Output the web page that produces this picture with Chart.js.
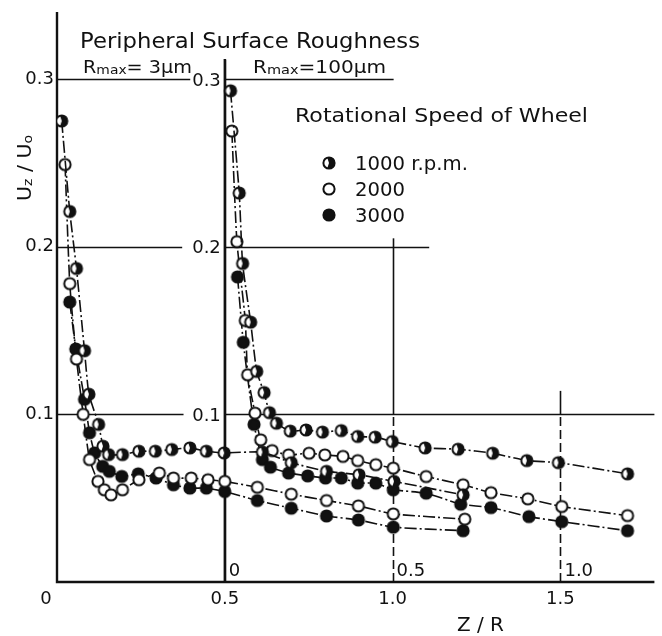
<!DOCTYPE html>
<html>
<head>
<meta charset="utf-8">
<script src="https://cdn.jsdelivr.net/npm/chart.js@4.4.1/dist/chart.umd.min.js"></script>
<style>
html, body { margin: 0; padding: 0; background: #fff; }
#wrap { width: 662px; height: 636px; }
</style>
</head>
<body>
<div id="wrap"><canvas id="chart"></canvas></div>
<script>
// Rmax = 3 um, Z/R
var r3_1000_z = [0.014, 0.038, 0.058, 0.082, 0.095, 0.124, 0.137, 0.154, 0.195, 0.244, 0.293, 0.342, 0.396, 0.445, 0.498, 0.612, 0.698, 0.803, 0.90, 1.004, 1.21];
var r3_1000_u = [0.275, 0.221, 0.187, 0.138, 0.112, 0.094, 0.081, 0.076, 0.076, 0.078, 0.078, 0.079, 0.080, 0.078, 0.077, 0.0775, 0.0712, 0.066, 0.064, 0.060, 0.052];
var r3_2000_z = [0.024, 0.038, 0.058, 0.078, 0.097, 0.122, 0.141, 0.161, 0.195, 0.244, 0.305, 0.347, 0.40, 0.45, 0.50, 0.597, 0.698, 0.803, 0.898, 1.002, 1.215];
var r3_2000_u = [0.249, 0.178, 0.133, 0.100, 0.073, 0.060, 0.055, 0.052, 0.055, 0.061, 0.065, 0.062, 0.062, 0.061, 0.060, 0.0565, 0.0524, 0.0486, 0.0454, 0.0406, 0.0375];
var r3_3000_z = [0.038, 0.056, 0.082, 0.097, 0.112, 0.136, 0.156, 0.193, 0.242, 0.295, 0.347, 0.396, 0.445, 0.50, 0.597, 0.698, 0.803, 0.898, 1.002, 1.21];
var r3_3000_u = [0.167, 0.139, 0.109, 0.089, 0.077, 0.069, 0.066, 0.063, 0.0645, 0.062, 0.058, 0.056, 0.056, 0.054, 0.0486, 0.044, 0.0394, 0.037, 0.0327, 0.0306];

// Rmax = 100 um, plotted on the same main axis (its own origin sits at 0.5)
var r100_1000_z = [0.517, 0.543, 0.553, 0.577, 0.595, 0.617, 0.633, 0.654, 0.695, 0.742, 0.791, 0.847, 0.896, 0.948, 0.999, 1.097, 1.195, 1.298, 1.40, 1.494, 1.70];
var r100_1000_u = [0.293, 0.232, 0.19, 0.155, 0.1256, 0.113, 0.101, 0.0947, 0.090, 0.0907, 0.0894, 0.0903, 0.0868, 0.0864, 0.0838, 0.080, 0.0792, 0.0768, 0.0724, 0.0712, 0.0645];
var r100_2000_z = [0.521, 0.536, 0.561, 0.568, 0.59, 0.607, 0.641, 0.69, 0.751, 0.798, 0.852, 0.896, 0.95, 1.002, 1.10, 1.21, 1.293, 1.403, 1.504, 1.70];
var r100_2000_u = [0.269, 0.203, 0.156, 0.1236, 0.1007, 0.0848, 0.0784, 0.0758, 0.0768, 0.0758, 0.0749, 0.0724, 0.070, 0.0679, 0.0629, 0.058, 0.0533, 0.0496, 0.045, 0.0396];
var r100_3000_z = [0.538, 0.555, 0.587, 0.612, 0.636, 0.69, 0.747, 0.80, 0.847, 0.896, 0.95, 1.002, 1.10, 1.203, 1.293, 1.406, 1.504, 1.70];
var r100_3000_u = [0.182, 0.143, 0.094, 0.073, 0.0685, 0.065, 0.0633, 0.062, 0.062, 0.059, 0.059, 0.055, 0.053, 0.0464, 0.0444, 0.039, 0.036, 0.0306];

var xTicks = [0, 0.5, 1.0, 1.5];
var yTicks = [0.1, 0.2, 0.3];
var subOrigin = 0.5;
var subXTicks = [0, 0.5, 1.0];
var speeds = ['1000 r.p.m.', '2000', '3000'];

var FONT = '"DejaVu Sans", sans-serif';
var INK = '#111';

function pairs(zs, us) {
    return zs.map(function (z, i) { return { x: z, y: us[i] }; });
}

// marker images: half-filled, open, filled
function marker(kind) {
    var s = 16, r = 5.6;
    var c = document.createElement('canvas');
    c.width = s; c.height = s;
    var g = c.getContext('2d');
    g.beginPath();
    g.arc(s / 2, s / 2, r, 0, Math.PI * 2);
    g.fillStyle = kind === 'filled' ? INK : '#fff';
    g.fill();
    if (kind === 'half') {
        g.beginPath();
        g.moveTo(s / 2, s / 2);
        g.arc(s / 2, s / 2, r, -Math.PI * 0.6, Math.PI * 0.6);
        g.closePath();
        g.fillStyle = INK;
        g.fill();
    }
    g.beginPath();
    g.arc(s / 2, s / 2, r, 0, Math.PI * 2);
    g.lineWidth = 2;
    g.strokeStyle = INK;
    g.stroke();
    return c;
}
var mk = { half: marker('half'), open: marker('open'), filled: marker('filled') };

function series(zs, us, kind) {
    return {
        data: pairs(zs, us),
        showLine: true,
        borderColor: INK,
        borderWidth: 1.6,
        borderDash: [12, 3, 2, 3],
        tension: 0.15,
        pointStyle: mk[kind],
        pointRadius: 6,
        backgroundColor: INK
    };
}

// grid segments: [value, from, to] in data units
var hSegs = [[0.3, 0, 0.397], [0.3, 0.5, 1.003], [0.2, 0, 0.373], [0.2, 0.5, 1.109], [0.1, 0, 0.377], [0.1, 0.5, 1.78]];
var vSegs = [[0.5, 0, 0.3116], [1.0, 0.1, 0.205], [1.5, 0.1, 0.114]];
var vDashed = [[1.0, 0, 0.1], [1.5, 0, 0.1]];

// draw a run of [text, size, dy] pieces, squeezed/stretched to a target width
function runText(ctx, parts, x, y, width) {
    var w = 0;
    parts.forEach(function (p) {
        ctx.font = p[1] + 'px ' + FONT;
        w += ctx.measureText(p[0]).width;
    });
    var k = width ? width / w : 1;
    ctx.save();
    ctx.translate(x, y);
    ctx.scale(k, 1);
    var cx = 0;
    parts.forEach(function (p) {
        ctx.font = p[1] + 'px ' + FONT;
        ctx.fillText(p[0], cx, p[2] || 0);
        cx += ctx.measureText(p[0]).width;
    });
    ctx.restore();
}

var decor = {
    id: 'decor',
    beforeDatasetsDraw: function (chart) {
        var ctx = chart.ctx, xs = chart.scales.x, ys = chart.scales.y;
        var a = chart.chartArea;
        ctx.save();
        ctx.strokeStyle = INK;
        ctx.lineWidth = 1.6;
        hSegs.forEach(function (s) {
            var y = Math.round(ys.getPixelForValue(s[0])) + 0.5;
            ctx.beginPath();
            ctx.moveTo(xs.getPixelForValue(s[1]), y);
            ctx.lineTo(xs.getPixelForValue(s[2]), y);
            ctx.stroke();
        });
        vSegs.forEach(function (s) {
            var x = Math.round(xs.getPixelForValue(s[0])) + 0.5;
            ctx.beginPath();
            ctx.moveTo(x, ys.getPixelForValue(s[1]));
            ctx.lineTo(x, ys.getPixelForValue(s[2]));
            ctx.stroke();
        });
        ctx.setLineDash([9, 4]);
        vDashed.forEach(function (s) {
            var x = Math.round(xs.getPixelForValue(s[0])) + 0.5;
            ctx.beginPath();
            ctx.moveTo(x, ys.getPixelForValue(s[1]));
            ctx.lineTo(x, ys.getPixelForValue(s[2]));
            ctx.stroke();
        });
        ctx.setLineDash([]);
        // main axes
        ctx.lineWidth = 2.4;
        ctx.beginPath();
        ctx.moveTo(a.left, a.top);
        ctx.lineTo(a.left, a.bottom);
        ctx.lineTo(a.right, a.bottom);
        ctx.stroke();
        // sub-axis at Z/R = 0.5
        ctx.beginPath();
        var sx = xs.getPixelForValue(subOrigin);
        ctx.moveTo(sx, ys.getPixelForValue(0.312));
        ctx.lineTo(sx, a.bottom);
        ctx.stroke();
        ctx.restore();
    },
    afterDraw: function (chart) {
        var ctx = chart.ctx, xs = chart.scales.x, ys = chart.scales.y;
        var a = chart.chartArea;
        ctx.save();
        ctx.fillStyle = INK;
        ctx.textBaseline = 'middle';

        // y ticks, main and sub axis
        ctx.font = '18px ' + FONT;
        ctx.textAlign = 'right';
        yTicks.forEach(function (v) {
            var y = ys.getPixelForValue(v);
            ctx.fillText(v.toFixed(1), a.left - 3, y);
            ctx.fillText(v.toFixed(1), xs.getPixelForValue(subOrigin) - 4, y + 2);
        });

        // x ticks
        ctx.textAlign = 'center';
        ctx.textBaseline = 'top';
        xTicks.forEach(function (v) {
            var x = xs.getPixelForValue(v);
            if (v === 0) x -= 11;
            ctx.fillText(v === 0 ? '0' : v.toFixed(1), x, a.bottom + 8);
        });
        // sub x ticks, inside the plot
        ctx.textAlign = 'left';
        ctx.textBaseline = 'alphabetic';
        subXTicks.forEach(function (v) {
            var x = xs.getPixelForValue(subOrigin + v);
            ctx.fillText(v === 0 ? '0' : v.toFixed(1), x + 4, a.bottom - 6);
        });

        // x title
        runText(ctx, [['Z / R', 20]], 457, 631, 47);

        // y title, rotated
        ctx.save();
        ctx.translate(31, 168);
        ctx.rotate(-Math.PI / 2);
        runText(ctx, [['U', 19], ['z', 13, 1], [' / U', 19], ['o', 13, 1]], -33, 0, 66);
        ctx.restore();

        // headings
        runText(ctx, [['Peripheral Surface Roughness', 21]], 80, 48, 340);
        runText(ctx, [['R', 18], ['max', 13, 1], ['= 3\u00b5m', 18]], 83, 73, 109);
        runText(ctx, [['R', 18], ['max', 13, 1], ['=100\u00b5m', 18]], 253, 73, 133);
        runText(ctx, [['Rotational Speed of Wheel', 20]], 295, 122, 293);

        // legend
        var kinds = ['half', 'open', 'filled'];
        var ly = [163, 189, 215];
        speeds.forEach(function (t, i) {
            ctx.drawImage(mk[kinds[i]], 329 - 8, ly[i] - 8);
            runText(ctx, [[t, 19]], 355, ly[i] + 7, i === 0 ? 113 : 50);
        });
        ctx.restore();
    }
};

new Chart(document.getElementById('chart'), {
    type: 'scatter',
    data: {
        datasets: [
            series(r3_1000_z, r3_1000_u, 'half'),
            series(r3_2000_z, r3_2000_u, 'open'),
            series(r3_3000_z, r3_3000_u, 'filled'),
            series(r100_1000_z, r100_1000_u, 'half'),
            series(r100_2000_z, r100_2000_u, 'open'),
            series(r100_3000_z, r100_3000_u, 'filled')
        ]
    },
    options: {
        responsive: true,
        maintainAspectRatio: false,
        animation: false,
        layout: { padding: { left: 57, right: 0, top: 12, bottom: 54 } },
        plugins: {
            legend: { display: false },
            tooltip: { enabled: false }
        },
        scales: {
            x: { type: 'linear', min: 0, max: 1.78, display: false },
            y: { type: 'linear', min: 0, max: 0.34, display: false }
        }
    },
    plugins: [decor]
});
</script>
</body>
</html>
